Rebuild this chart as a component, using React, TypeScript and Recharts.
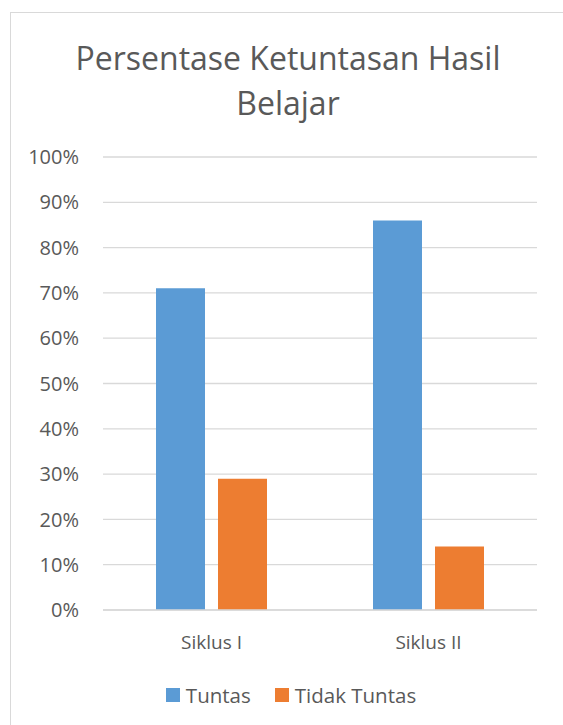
import { Bar, BarChart, CartesianGrid, Legend, XAxis, YAxis } from "recharts";

const categories = ["Siklus I", "Siklus II"];
const tuntas = [71, 86];
const tidakTuntas = [29, 14];
const yTicks = [0, 10, 20, 30, 40, 50, 60, 70, 80, 90, 100];

const SERIES = [
  { key: "tuntas", name: "Tuntas", color: "#5B9BD5" },
  { key: "tidak", name: "Tidak Tuntas", color: "#ED7D31" },
];

const data = categories.map((name, i) => ({
  name,
  tuntas: tuntas[i],
  tidak: tidakTuntas[i],
}));

const FONT = "'Open Sans', 'Noto Sans', sans-serif";
const TEXT = "#595959";
const GRID = "#D9D9D9";

function LegendBox() {
  return (
    <div
      style={{
        display: "flex",
        justifyContent: "center",
        alignItems: "center",
        height: 20,
        paddingLeft: 34,
        fontFamily: FONT,
        fontSize: 20.5,
        color: TEXT,
        gap: 24,
      }}
    >
      {SERIES.map((s) => (
        <span key={s.key} style={{ display: "flex", alignItems: "center", gap: 6 }}>
          <span style={{ width: 14, height: 14, background: s.color, display: "inline-block" }} />
          <span>{s.name}</span>
        </span>
      ))}
    </div>
  );
}

export default function App() {
  return (
    <div style={{ position: "relative", width: 563, height: 725, overflow: "hidden" }}>
      <style>{`body{margin:0;overflow:hidden;}`}</style>
      <div
        style={{
          position: "absolute",
          left: 10,
          top: 12,
          width: 560,
          height: 720,
          borderLeft: `1px solid ${GRID}`,
          borderTop: `1px solid ${GRID}`,
          background: "#fff",
        }}
      />
      <div
        style={{
          position: "absolute",
          left: 0,
          width: 576,
          top: 35,
          textAlign: "center",
          fontFamily: FONT,
          fontSize: 32,
          lineHeight: "45px",
          color: TEXT,
        }}
      >
        Persentase Ketuntasan Hasil
        <br />
        Belajar
      </div>
      <div style={{ position: "absolute", left: 11, top: 13 }}>
        <BarChart
          width={552}
          height={700}
          data={data}
          margin={{ top: 144, right: 26, left: 0, bottom: 8 }}
          barGap={13}
          barSize={49}
        >
          <CartesianGrid vertical={false} stroke={GRID} strokeWidth={1.3} />
          <XAxis
            dataKey="name"
            axisLine={{ stroke: GRID, strokeWidth: 1.3 }}
            tickLine={false}
            tickMargin={20}
            height={75}
            tick={{ fill: TEXT, fontSize: 19, fontFamily: FONT }}
          />
          <YAxis
            domain={[0, 100]}
            ticks={yTicks}
            interval={0}
            width={92}
            axisLine={false}
            tickLine={false}
            tickMargin={18}
            tickFormatter={(v) => `${v}%`}
            tick={{ fill: TEXT, fontSize: 20, fontFamily: FONT }}
          />
          <Legend verticalAlign="bottom" content={() => <LegendBox />} />
          {SERIES.map((s) => (
            <Bar key={s.key} dataKey={s.key} name={s.name} fill={s.color} isAnimationActive={false} />
          ))}
        </BarChart>
      </div>
    </div>
  );
}
